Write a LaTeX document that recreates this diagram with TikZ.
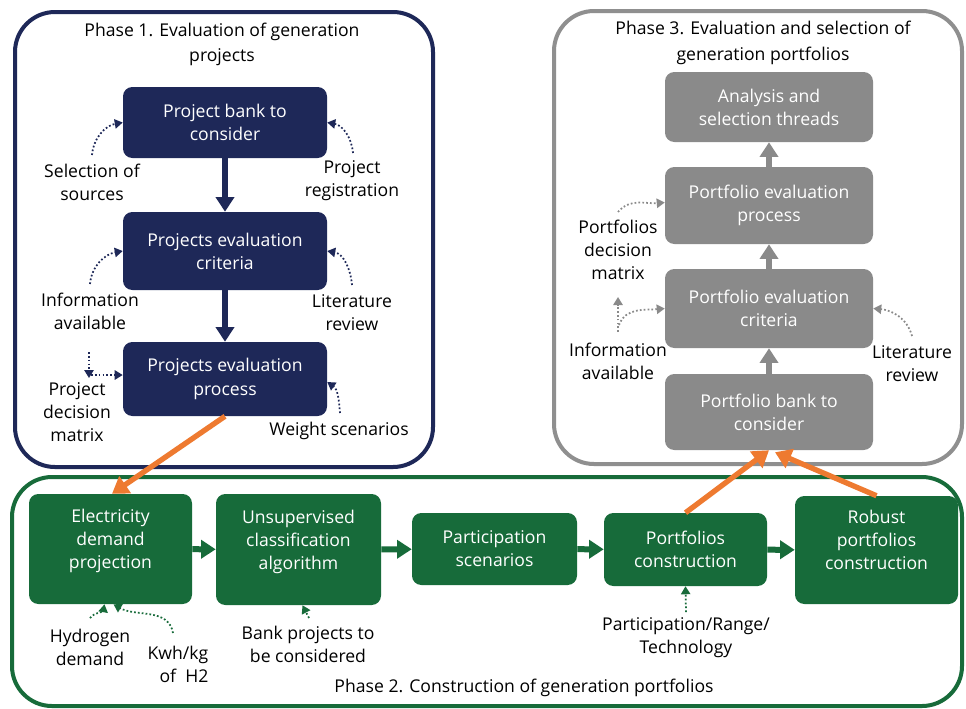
\documentclass[tikz,border=0pt]{standalone}
\usepackage{fontspec}
\setmainfont{Open Sans}
\usetikzlibrary{arrows.meta,calc}
\definecolor{cNavy}{HTML}{1E2858}
\definecolor{cGrayBox}{HTML}{8A8A8A}
\definecolor{cGrayLine}{HTML}{8F8F8F}
\definecolor{cGreen}{HTML}{176B3A}
\definecolor{cOrange}{HTML}{EE7A30}
\newdimen\pxu \pxu=0.75pt
\begin{document}
\begin{tikzpicture}[x=0.75pt,y=-0.75pt,
  txt/.style={font=\fontsize{13.2}{17.4}\selectfont, align=center, inner sep=0pt},
  boxbase/.style={txt, text=white, rounded corners=7pt},
  navybox/.style={boxbase, fill=cNavy, minimum width=204\pxu},
  graybox/.style={boxbase, fill=cGrayBox, minimum width=208\pxu},
  greenbox/.style={boxbase, fill=cGreen},
  raised/.style={text depth=15pt},
  lbl/.style={txt, text=black},
  ttl/.style={txt, text=black, font=\fontsize{13.2}{19}\selectfont},
  bigarr/.style={line width=4.5pt, -{Triangle[width=13.5pt,length=11pt]}},
  dotarr/.style={line width=1.3pt, dash pattern=on 1.3pt off 1.6pt, -{Triangle[width=7pt,length=6pt]}},
  orangearr/.style={draw=cOrange, line width=4pt, -{Triangle[width=15pt,length=12pt]}},
  phase/.style={line width=3pt, rounded corners=30pt}
]
\useasboundingbox (0,0) rectangle (966,708);
\fill[white] (0,0) rectangle (966,708);

% phase containers
\draw[phase, draw=cNavy] (15,12) rectangle (433,467);
\draw[phase, draw=cGrayLine] (554,11) rectangle (962,464);
\draw[phase, draw=cGreen] (12,477) rectangle (962,706);

% titles
\node[ttl] (t1) at (222,44.5) {Phase 1. Evaluation of generation\\projects};
\node[ttl] (t3) at (763,43) {Phase 3. Evaluation and selection of\\generation portfolios};
\node[ttl] (t2) at (524,688) {Phase 2. Construction of generation portfolios};

% phase 1 boxes
\node[navybox, minimum height=71\pxu] (pb) at (225,122.5) {Project bank to\\consider};
\node[navybox, minimum height=78\pxu] (pec) at (225,251) {Projects evaluation\\criteria};
\node[navybox, minimum height=74\pxu] (pep) at (225,379) {Projects evaluation\\process};

% phase 3 boxes
\node[graybox, minimum height=70\pxu] (ana) at (769,107) {Analysis and\\selection threads};
\node[graybox, minimum height=77\pxu] (pproc) at (769,205.5) {Portfolio evaluation\\process};
\node[graybox, minimum height=79\pxu] (pcrit) at (769,308.5) {Portfolio evaluation\\criteria};
\node[graybox, minimum height=76\pxu] (pbank) at (769,412) {Portfolio bank to\\consider};

% phase 2 boxes
\node[greenbox, raised, minimum width=163\pxu, minimum height=110\pxu] (elec) at (110.5,549) {Electricity\\demand\\projection};
\node[greenbox, raised, minimum width=165\pxu, minimum height=111\pxu] (unsup) at (298.5,549.5) {Unsupervised\\classification\\algorithm};
\node[greenbox, minimum width=165\pxu, minimum height=72\pxu] (partic) at (494.5,549) {Participation\\scenarios};
\node[greenbox, minimum width=163\pxu, minimum height=73\pxu] (pcons) at (685.5,549.5) {Portfolios\\construction};
\node[greenbox, raised, minimum width=163\pxu, minimum height=108\pxu] (robust) at (876.5,550) {Robust\\portfolios\\construction};

% labels
\node[lbl] (sel) at (92,182.5) {Selection of\\sources};
\node[lbl] (reg) at (352,181) {Project\\registration};
\node[lbl] (inf1) at (90,311) {Information\\available};
\node[lbl] (lit1) at (352,313) {Literature\\review};
\node[lbl] (pdm) at (77,412) {Project\\decision\\matrix};
\node[lbl] (wsc) at (339,431) {Weight scenarios};
\node[lbl] (pdm3) at (618,250) {Portfolios\\decision\\matrix};
\node[lbl] (inf3) at (618,361.5) {Information\\available};
\node[lbl] (lit3) at (912,363.5) {Literature\\review};
\node[lbl] (hyd) at (90,647) {Hydrogen\\demand};
\node[lbl, align=right] (kwh) at (178,664) {Kwh/kg\\of~~H2};
\node[lbl] (bank) at (308,644) {Bank projects to\\be considered};
\node[lbl] (ptr) at (686,638) {Participation/Range/\\Technology};

% main arrows
\draw[bigarr, draw=cNavy] (pb) -- (pec);
\draw[bigarr, draw=cNavy] (pec) -- (pep);
\draw[bigarr, draw=cGrayBox] (pbank) -- (pcrit);
\draw[bigarr, draw=cGrayBox] (pcrit) -- (pproc);
\draw[bigarr, draw=cGrayBox] (pproc) -- (ana);
\draw[bigarr, draw=cGreen] (elec) -- (unsup);
\draw[bigarr, draw=cGreen] (unsup) -- (partic);
\draw[bigarr, draw=cGreen] (partic) -- (pcons);
\draw[bigarr, draw=cGreen] (pcons) -- (robust);

% dotted arrows phase 1
\coordinate (c1) at (92,155);
\draw[dotarr, draw=cNavy] (c1) to[out=85,in=190] (pb.west);
\coordinate (c2) at (353,153);
\draw[dotarr, draw=cNavy] (c2) to[out=95,in=-10] (pb.east);
\coordinate (c3) at (90,284);
\draw[dotarr, draw=cNavy] (c3) to[out=85,in=190] (pec.west);
\coordinate (c4) at (352,285);
\draw[dotarr, draw=cNavy] (c4) to[out=95,in=-10] (pec.east);
\coordinate (c5) at (89,352);
\coordinate (c5b) at (89,378);
\draw[dotarr, draw=cNavy] (c5) -- (c5b);
\coordinate (c6) at (91,375);
\draw[dotarr, draw=cNavy] (c6) -- ($(pep.west)+(0,-4)$);
\coordinate (c7) at (340,413);
\draw[dotarr, draw=cNavy] (c7) to[out=95,in=-35] ($(pep.east)+(0,3)$);

% dotted arrows phase 3
\coordinate (d1) at (618,212);
\draw[dotarr, draw=cGrayBox] (d1) to[out=50,in=185] ($(pproc.west)+(0,-3)$);
\coordinate (d2) at (618,332);
\coordinate (d2b) at (618,297);
\draw[dotarr, draw=cGrayBox] (d2) -- (d2b);
\coordinate (d3) at (619,325);
\draw[dotarr, draw=cGrayBox] (d3) to[out=70,in=185] (pcrit.west);
\coordinate (d4) at (912,336);
\draw[dotarr, draw=cGrayBox] (d4) to[out=105,in=-5] (pcrit.east);

% dotted arrows phase 2
\coordinate (e1) at (90,618);
\draw[dotarr, draw=cGreen] (e1) to[out=50,in=-100] ($(elec.south)+(-6,0)$);
\coordinate (e2) at (173,633);
\draw[dotarr, draw=cGreen] (e2) to[out=100,in=-30] ($(elec.south)+(3,0)$);
\coordinate (e3) at (309,618);
\draw[dotarr, draw=cGreen] (e3) -- ($(unsup.south)+(4,0)$);
\coordinate (e4) at (686,612);
\draw[dotarr, draw=cGreen] (e4) -- (pcons.south);

% orange connectors
\draw[orangearr] (pep.south) -- ($(elec.north)+(1.5,0)$);
\draw[orangearr] (pcons.north) -- (pbank.south);
\draw[orangearr] (robust.north) -- ($(pbank.south)+(6,2)$);
\end{tikzpicture}
\end{document}
